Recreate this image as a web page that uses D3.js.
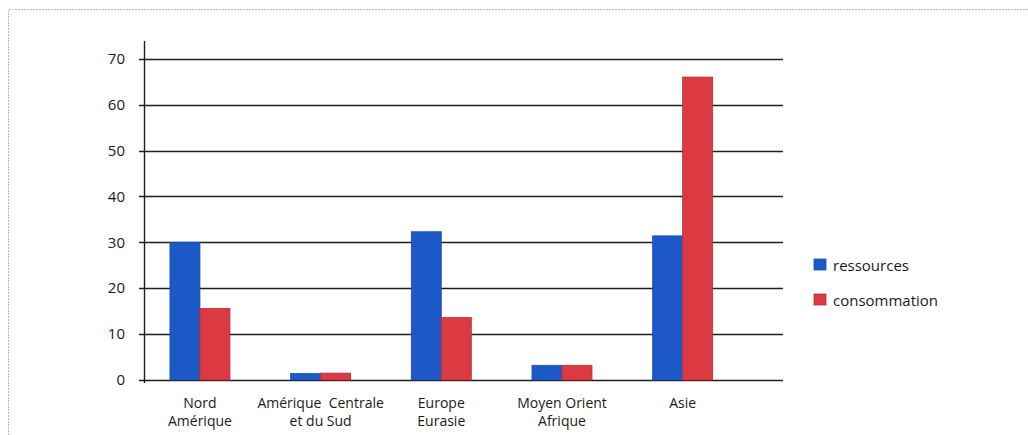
<!DOCTYPE html>
<html><head><meta charset="utf-8">
<script src="https://cdn.jsdelivr.net/npm/d3@7"></script>
<style>body{margin:0;background:#fff;}svg{display:block;}</style>
</head><body>
<svg id="c" width="1028" height="435"></svg>
<script>
const categories = [["Nord","Amérique"],["Amérique  Centrale","et du Sud"],["Europe","Eurasie"],["Moyen Orient","Afrique"],["Asie"]];
const seriesNames = ["ressources","consommation"];
const ressources = [30, 1.4, 32.3, 3.2, 31.4];
const consommation = [15.6, 1.5, 13.6, 3.2, 66.0];
const yTicks = [0,10,20,30,40,50,60,70];
const colors = ["#1d59c6","#db3a42"];
const strokes = ["#1a4fb0","#c02a34"];

const svg = d3.select("#c");
const font = "'Open Sans', 'Noto Sans', sans-serif";

// outer dotted frame
svg.append("path").attr("d","M8.5,435 V9.5 H1028")
  .attr("fill","none").attr("stroke","#bbb").attr("stroke-width",1).attr("stroke-dasharray","2,1");

const y = d3.scaleLinear().domain([0,70]).range([380,58.7]);
const idx = d3.range(categories.length);
const x = d3.scaleBand().domain(idx).range([139.6,743]).padding(0);
const xs = d3.scaleBand().domain([0,1]).range([0,60]);
const gridRight = 783, axisX = 144.5;

// gridlines
svg.append("g").selectAll("line").data(yTicks).join("line")
  .attr("x1",139).attr("x2",gridRight)
  .attr("y1",d=>Math.round(y(d))+0.5).attr("y2",d=>Math.round(y(d))+0.5)
  .attr("stroke","#1e1e1e").attr("stroke-width",1.4);

// y axis line
svg.append("line").attr("x1",axisX).attr("x2",axisX).attr("y1",41).attr("y2",383)
  .attr("stroke","#1e1e1e").attr("stroke-width",1.4);

// y tick labels
svg.append("g").selectAll("text").data(yTicks).join("text")
  .attr("x",125).attr("y",d=>y(d)).attr("dy","0.35em")
  .attr("text-anchor","end").attr("font-family",font).attr("font-size",15).attr("fill","#1a1a1a")
  .text(d=>d);

// bars
const series = [ressources, consommation];
series.forEach((vals,s)=>{
  svg.append("g").selectAll("rect").data(vals).join("rect")
    .attr("x",(d,i)=>x(i)+x.bandwidth()/2-30+xs(s))
    .attr("width",xs.bandwidth())
    .attr("y",d=>y(d)).attr("height",d=>y(0)-y(d))
    .attr("fill",colors[s]).attr("stroke",strokes[s]).attr("stroke-width",0.8);
});

// x labels
const xl = svg.append("g");
categories.forEach((lines,i)=>{
  const t = xl.append("text").attr("text-anchor","middle")
    .attr("font-family",font).attr("font-size",14).attr("fill","#1a1a1a")
    .attr("transform",`translate(${x(i)+x.bandwidth()/2},408)`);
  lines.forEach((l,j)=>t.append("tspan").attr("x",0).attr("y",j*18).style("white-space","pre").text(l));
});

// legend
const lg = svg.append("g");
seriesNames.forEach((n,s)=>{
  const yy = 259 + s*35;
  lg.append("rect").attr("x",814).attr("y",yy).attr("width",12).attr("height",11)
    .attr("fill",colors[s]).attr("stroke",strokes[s]).attr("stroke-width",0.8);
  lg.append("text").attr("x",833).attr("y",yy+11.5).attr("font-family",font).attr("font-size",15)
    .attr("fill","#1a1a1a").text(n);
});
</script>
</body></html>
